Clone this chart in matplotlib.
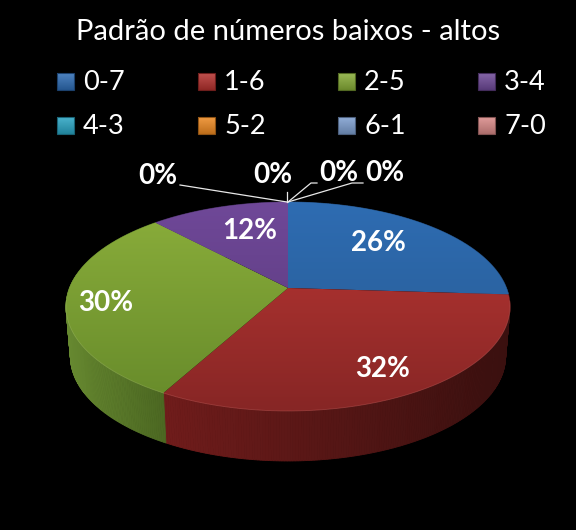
import numpy as np
import matplotlib
matplotlib.use("Agg")
import matplotlib.pyplot as plt
from matplotlib.colors import to_rgb
from matplotlib.patches import Polygon

# data
categories = ["0-7", "1-6", "2-5", "3-4", "4-3", "5-2", "6-1", "7-0"]
shares = [26, 32, 30, 12, 0, 0, 0, 0]
legend_colors = ["#2f6db5", "#b5322f", "#88ad38", "#6f4a98",
                 "#2aa5c4", "#ee8a22", "#7e9fd0", "#d98a88"]

# top face gradient, (upper, lower)
top_colors = [("#2e6cb2", "#27598f"), ("#bb3734", "#872625"),
              ("#8bae3b", "#668a2a"), ("#6f4898", "#573878")]
# side gradient, (left, right)
side_colors = [("#234a78", "#1c3b60"), ("#701c1b", "#3a100f"),
               ("#668830", "#4c6822"), ("#3d2a55", "#3d2a55")]

# pie projection: disc seen in perspective, pixel units
CX, CY = 288, 288
A, B, K = 218.5, 101.2, 0.177
DEPTH = 50
SHRINK = 0.98

plt.rcParams["font.family"] = ["Lato", "DejaVu Sans"]


def project(theta):
    """theta in radians, clockwise from 12 o'clock."""
    u, v = np.sin(theta), np.cos(theta)
    w = 1 + K * v
    return CX + A * u / w, CY - B * v / w


def lerp(c0, c1, t):
    c0, c1 = np.array(to_rgb(c0)), np.array(to_rgb(c1))
    return c0 + (c1 - c0) * t


fig = plt.figure(figsize=(5.76, 5.30), dpi=100, facecolor="black")
ax = fig.add_axes([0, 0, 1, 1])
ax.set_axis_off()

cum = np.cumsum([0] + shares) / sum(shares) * 2 * np.pi

# side wall
for i, share in enumerate(shares):
    if share == 0:
        continue
    th = np.linspace(cum[i], cum[i + 1], int(share * 6) + 2)
    x, y = project(th)
    xb = CX + (x - CX) * SHRINK
    yb = y + DEPTH
    left, right = side_colors[i]
    x_lo, x_hi = x.min(), x.max()
    for j in range(len(th) - 1):
        t = (x[j] - x_lo) / max(x_hi - x_lo, 1)
        col = lerp(left, right, t)
        quad = [(x[j], y[j]), (x[j + 1], y[j + 1]), (xb[j + 1], yb[j + 1]), (xb[j], yb[j])]
        ax.add_patch(Polygon(quad, closed=True, fc=col, ec=col, lw=0.6, zorder=1))

# top face
for i, share in enumerate(shares):
    if share == 0:
        continue
    th = np.linspace(cum[i], cum[i + 1], int(share * 6) + 2)
    x, y = project(th)
    pts = np.column_stack([np.r_[CX, x], np.r_[CY, y]])
    upper, lower = top_colors[i]
    grad = np.array([lerp(upper, lower, t) for t in np.linspace(0, 1, 64)])[:, None, :]
    im = ax.imshow(grad, extent=(0, 576, 411, 202), aspect="auto", zorder=2,
                   interpolation="bilinear")
    poly = Polygon(pts, closed=True, fc="none", ec="none", transform=ax.transData)
    ax.add_patch(poly)
    im.set_clip_path(poly)
    # lit rim on the front
    vis = y > 300
    if vis.any():
        ax.plot(x[vis], y[vis], color=lerp(upper, "#ffffff", 0.2), lw=0.6, alpha=0.45, zorder=3)

# leader lines for the empty slices
leaders = [
    ([180, 287], [185, 202]),
    ([287, 287], [192, 202]),
    ([317, 311, 288], [183, 183, 202]),
    ([363, 352, 288], [183, 183, 202]),
]
for lx, ly in leaders:
    ax.plot(lx, ly, color="#e8e8e8", lw=0.9, zorder=4)

# data labels
label_pos = [(378, 243), (383, 369), (106, 303), (250, 231),
             (385, 173), (339, 173), (273, 175), (158, 176)]
for share, (lx, ly) in zip(shares, label_pos):
    ax.text(lx, ly, f"{share}%", color="white", fontsize=20, fontweight="bold",
            ha="center", va="center", zorder=5)

# title
ax.text(288, 32, "Padrão de números baixos - altos", color="white", fontsize=21,
        ha="center", va="center")

# legend
col_x = [57, 198, 338, 478]
row_y = [73, 117]
for i, (name, col) in enumerate(zip(categories, legend_colors)):
    sx = col_x[i % 4]
    sy = row_y[i // 4]
    base = np.array(to_rgb(col))
    grad = np.array([lerp(base * 0.85 + 0.15, base * 0.8, t)
                     for t in np.linspace(0, 1, 16)])[:, None, :]
    ax.imshow(grad, extent=(sx, sx + 17, sy + 17, sy), aspect="auto", zorder=2)
    ax.add_patch(Polygon([(sx, sy), (sx + 17, sy), (sx + 17, sy + 17), (sx, sy + 17)],
                         closed=True, fc="none", ec=base * 0.6, lw=0.8, zorder=3))
    ax.text(sx + 26, sy + 10, name, color="white", fontsize=19.5, ha="left", va="center")

ax.set_xlim(0, 576)
ax.set_ylim(530, 0)
fig.savefig("out.png", dpi=100, facecolor="black")
